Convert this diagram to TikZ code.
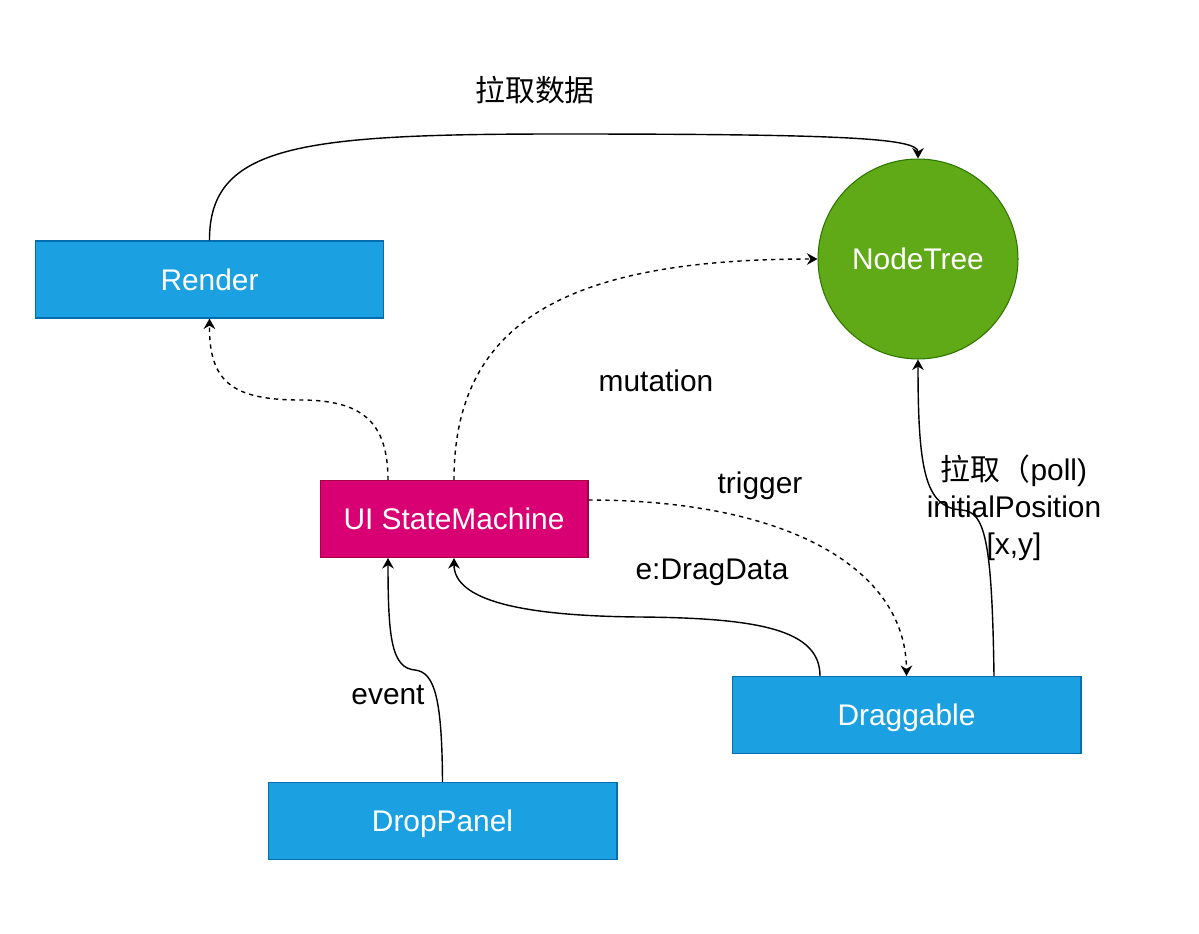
\documentclass[tikz,border=0pt]{standalone}
\usepackage{fontspec}
\setmainfont{Liberation Sans}
\newfontfamily\cjk{Noto Sans CJK SC}
\usepackage{tikz}
\usetikzlibrary{arrows.meta, positioning, calc}
\definecolor{BlueFill}{HTML}{1BA1E2}
\definecolor{BlueLine}{HTML}{006EAF}
\definecolor{PinkFill}{HTML}{D80073}
\definecolor{PinkLine}{HTML}{A50040}
\definecolor{GreenFill}{HTML}{60A917}
\definecolor{GreenLine}{HTML}{2D7600}
\newcommand\lblfont{\fontsize{17}{21}\selectfont}

\begin{document}
\begin{tikzpicture}[x=0.02cm,y=-0.02cm,
        block/.style={rectangle,draw=BlueLine,fill=BlueFill,text=white,
                      font=\lblfont,minimum width=6.98cm,minimum height=1.54cm,
                      text height=12.2pt,text depth=0pt,line width=0.6pt},
        pinkblock/.style={block,draw=PinkLine,fill=PinkFill,minimum width=5.36cm},
        ball/.style={circle,draw=GreenLine,fill=GreenFill,text=white,
                     font=\lblfont,minimum size=4cm,text height=12.2pt,
                     text depth=0pt,line width=0.6pt},
        lbl/.style={font=\lblfont,inner sep=0pt},
        edge/.style={draw=black,line width=0.8pt,
                     -{Stealth[length=6pt,width=6.6pt,inset=2pt]}},
        dedge/.style={edge,dash pattern=on 2.4pt off 2.4pt}
      ]
        \useasboundingbox (0,0) rectangle (1199,933);
        \node[block] (render) at (209.5,279.5) {Render};
        \node[ball] (nodetree) at (918,259) {NodeTree};
        \node[pinkblock] (uism) at (454,519) {UI StateMachine};
        \node[block] (dragg) at (906.5,715) {Draggable};
        \node[block] (drop) at (442.5,821) {DropPanel};
        \draw[edge] (render.north)
          .. controls (209,145) and (300,134) .. (560,134)
          .. controls (840,134) and (918,138) .. (nodetree.north);
        \draw[dedge] ($(uism.north)+(-66,0)$)
          .. controls (388,420) and (360,400) .. (300,400)
          .. controls (230,400) and (209,380) .. (render.south);
        \draw[dedge] (uism.north)
          .. controls (454,320) and (570,259) .. (nodetree.west);
        \draw[dedge] ($(uism.east)+(0,-19)$)
          .. controls (790,500) and (906,570) .. (dragg.north);
        \draw[edge] ($(dragg.north)+(-86.5,0)$)
          .. controls (820,630) and (760,618) .. (640,617)
          .. controls (520,616) and (454,600) .. (uism.south);
        \draw[edge] ($(dragg.north)+(87.5,0)$)
          .. controls (992,540) and (985,512) .. (962,510)
          .. controls (925,508) and (918,470) .. (nodetree.south);
        \draw[edge] (drop.north)
          .. controls (442,700) and (435,672) .. (415,670)
          .. controls (392,668) and (388,640) .. ($(uism.south)+(-66,0)$);
        \node[lbl] (pulldata) at (535,90) {\cjk 拉取数据};
        \node[lbl] (mutation) at (656,381) {mutation};
        \node[lbl] (trigger) at (760,486) {trigger};
        \node[lbl] (dragdata) at (712,572) {e:DragData};
        \node[lbl] (event) at (388,695) {event};
        \node[lbl,align=center] (poll) at (1014,508)
          {{\cjk 拉取（}poll)\\initialPosition\\{}[x,y]};
      \end{tikzpicture}
\end{document}
